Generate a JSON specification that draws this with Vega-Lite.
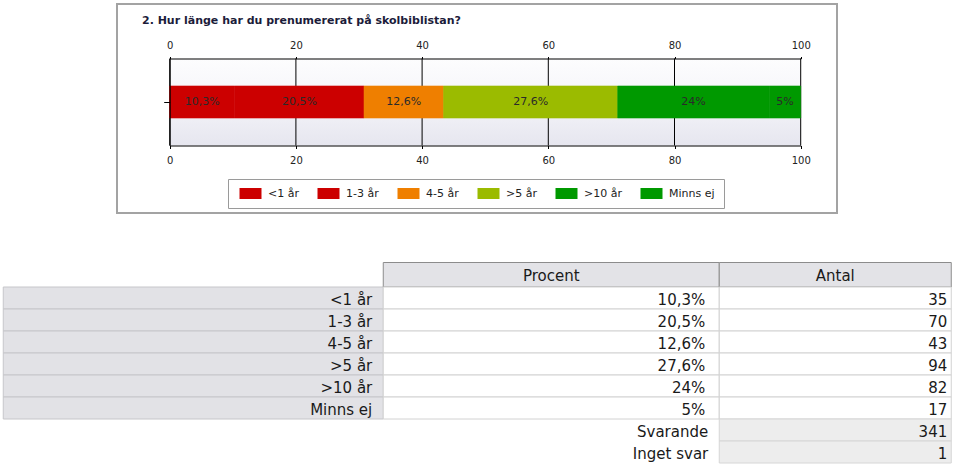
{
  "$schema": "https://vega.github.io/schema/vega-lite/v6.json",
  "background": "white",
  "padding": {"left": 2, "top": 3, "right": 0, "bottom": 0},
  "spacing": 48,
  "center": true,
  "config": {
    "view": {"stroke": null},
    "font": "DejaVu Sans",
    "text": {"font": "DejaVu Sans"}
  },
  "datasets": {
    "svar": [
      {"kat": "<1 år", "ord": 1, "pct": 10.3, "procent": "10,3%", "antal": 35},
      {"kat": "1-3 år", "ord": 2, "pct": 20.5, "procent": "20,5%", "antal": 70},
      {"kat": "4-5 år", "ord": 3, "pct": 12.6, "procent": "12,6%", "antal": 43},
      {"kat": ">5 år", "ord": 4, "pct": 27.6, "procent": "27,6%", "antal": 94},
      {"kat": ">10 år", "ord": 5, "pct": 24, "procent": "24%", "antal": 82},
      {"kat": "Minns ej", "ord": 6, "pct": 5, "procent": "5%", "antal": 17}
    ],
    "summa": [
      {"kat": "Svarande", "antal": 341},
      {"kat": "Inget svar", "antal": 1}
    ]
  },
  "resolve": {"scale": {"color": "independent", "stroke": "independent"}, "legend": {"color": "independent"}},
  "vconcat": [
    {
      "width": 720,
      "height": 209,
      "view": {"stroke": "#a3a3a3", "strokeWidth": 2, "fill": "white"},
      "title": {
        "text": "2. Hur länge har du prenumererat på skolbiblistan?",
        "anchor": "start",
        "frame": "group",
        "offset": -31,
        "dx": 25,
        "baseline": "alphabetic",
        "font": "DejaVu Sans",
        "fontSize": 11,
        "fontWeight": "bold",
        "color": "#1c1c3a"
      },
      "encoding": {
        "y": {
          "datum": "Q",
          "type": "nominal",
          "scale": {"type": "band", "range": [54.5, 141.5], "paddingInner": 0, "paddingOuter": 0},
          "axis": {"orient": "left", "offset": -52.7, "labels": false, "title": null, "tickSize": 6, "domainColor": "#000000", "tickColor": "#000000", "grid": false, "zindex": 1}
        }
      },
      "layer": [
        {
          "data": {"values": [{}]},
          "mark": {
            "type": "rect",
            "fill": {
              "gradient": "linear", "x1": 0, "y1": 0, "x2": 0, "y2": 1,
              "stops": [
                {"offset": 0, "color": "#fdfdfe"},
                {"offset": 0.5, "color": "#f4f4f9"},
                {"offset": 1, "color": "#e6e6ef"}
              ]
            }
          },
          "encoding": {
            "x": {
              "datum": 0,
              "type": "quantitative",
              "scale": {"domain": [0, 100], "range": [52.7, 683.7], "nice": false, "zero": false},
              "axis": {"orient": "bottom", "offset": -67.5, "values": [0, 20, 40, 60, 80, 100], "tickSize": 3, "labelPadding": 7, "domainColor": "#000000", "tickColor": "#000000", "labelColor": "#222222", "labelFont": "DejaVu Sans", "labelFontSize": 10, "labelFlush": false, "labelOverlap": false, "title": null, "grid": false, "zindex": 1}
            },
            "x2": {"datum": 100}
          }
        },
        {
          "data": {"values": [{"v": 0}, {"v": 20}, {"v": 40}, {"v": 60}, {"v": 80}, {"v": 100}]},
          "mark": {"type": "tick", "orient": "vertical", "size": 87, "thickness": 1, "color": "#000000", "opacity": 1},
          "encoding": {
            "x": {
              "field": "v",
              "type": "quantitative",
              "scale": {"domain": [0, 100], "range": [52.7, 683.7], "nice": false, "zero": false},
              "axis": {"orient": "top", "offset": -54.5, "values": [0, 20, 40, 60, 80, 100], "tickSize": 2, "labelPadding": 6, "domainColor": "#000000", "tickColor": "#000000", "labelColor": "#222222", "labelFont": "DejaVu Sans", "labelFontSize": 10, "labelFlush": false, "labelOverlap": false, "title": null, "grid": false, "zindex": 1}
            }
          }
        },
        {
          "data": {"name": "svar"},
          "mark": {"type": "bar", "size": 32, "strokeWidth": 0.6},
          "encoding": {
            "x": {
              "field": "pct",
              "type": "quantitative",
              "stack": "zero",
              "scale": {"domain": [0, 100], "range": [52.7, 683.7], "nice": false, "zero": false},
              "axis": null
            },
            "color": {
              "field": "kat",
              "type": "nominal",
              "scale": {
                "domain": ["<1 år", "1-3 år", "4-5 år", ">5 år", ">10 år", "Minns ej"],
                "range": ["#cc0000", "#cc0000", "#ef7f00", "#9bbb00", "#009900", "#009900"]
              },
              "legend": {
                "orient": "none",
                "legendX": 111,
                "legendY": 175,
                "direction": "horizontal",
                "title": null,
                "symbolType": "M-2,-1H2V1H-2Z",
                "symbolSize": 121,
                "symbolStrokeWidth": 0,
                "symbolOpacity": 1,
                "symbolOffset": 8,
                "labelOffset": 12,
                "labelFont": "DejaVu Sans",
                "labelFontSize": 11,
                "labelColor": "#222222",
                "columnPadding": 16,
                "padding": 9,
                "strokeColor": "#9a9a9a",
                "fillColor": "white"
              }
            },
            "stroke": {
              "field": "kat",
              "type": "nominal",
              "scale": {
                "domain": ["<1 år", "1-3 år", "4-5 år", ">5 år", ">10 år", "Minns ej"],
                "range": ["#cc0000", "#cc0000", "#ef7f00", "#9bbb00", "#009900", "#009900"]
              },
              "legend": null
            },
            "order": {"field": "ord", "type": "quantitative"}
          }
        },
        {
          "data": {"name": "svar"},
          "mark": {"type": "text", "fontSize": 11, "font": "DejaVu Sans", "color": "#2a2a2a", "baseline": "middle"},
          "encoding": {
            "x": {
              "field": "pct",
              "type": "quantitative",
              "stack": "zero",
              "bandPosition": 0.5,
              "scale": {"domain": [0, 100], "range": [52.7, 683.7], "nice": false, "zero": false},
              "axis": null
            },
            "detail": {"field": "kat", "type": "nominal"},
            "order": {"field": "ord", "type": "quantitative"},
            "text": {"field": "procent", "type": "nominal"}
          }
        }
      ],
      "resolve": {"axis": {"x": "independent"}}
    },
    {
      "spacing": 0,
      "bounds": "flush",
      "hconcat": [
        {
          "width": 380,
          "height": 201,
          "data": {"name": "svar"},
          "encoding": {
            "y": {
              "field": "kat",
              "type": "nominal",
              "scale": {"domain": ["<1 år", "1-3 år", "4-5 år", ">5 år", ">10 år", "Minns ej", "Svarande", "Inget svar"], "range": [25, 201], "paddingInner": 0, "paddingOuter": 0},
              "axis": null
            }
          },
          "layer": [
            {"mark": {"type": "rect", "fill": "#e2e2e6", "stroke": "#c6c6ca", "strokeWidth": 1}},
            {
              "mark": {"type": "text", "align": "right", "baseline": "middle", "dx": -11, "dy": 2, "fontSize": 15, "font": "DejaVu Sans", "color": "#1a1a1a"},
              "encoding": {"x": {"value": "width"}, "text": {"field": "kat", "type": "nominal"}}
            }
          ]
        },
        {
          "width": 336,
          "height": 201,
          "layer": [
            {
              "data": {"values": [{"rubrik": "Procent"}]},
              "encoding": {
                "y": {"field": "rubrik", "type": "nominal", "scale": {"range": [0.5, 25], "paddingInner": 0, "paddingOuter": 0}, "axis": null}
              },
              "layer": [
                {"mark": {"type": "rect", "fill": "#e3e3e7", "stroke": "#8c8c8c", "strokeWidth": 1}},
                {
                  "mark": {"type": "text", "baseline": "middle", "dy": 1, "fontSize": 15, "font": "DejaVu Sans", "color": "#1a1a1a"},
                  "encoding": {"text": {"field": "rubrik", "type": "nominal"}}
                }
              ]
            },
            {
              "data": {"name": "svar"},
              "encoding": {
                "y": {
                  "field": "kat",
                  "type": "nominal",
                  "scale": {"domain": ["<1 år", "1-3 år", "4-5 år", ">5 år", ">10 år", "Minns ej", "Svarande", "Inget svar"], "range": [25, 201], "paddingInner": 0, "paddingOuter": 0},
                  "axis": null
                }
              },
              "layer": [
                {"mark": {"type": "rect", "fill": "white", "stroke": "#d2d2d2", "strokeWidth": 1}},
                {
                  "mark": {"type": "text", "align": "right", "baseline": "middle", "dx": -14, "dy": 2, "fontSize": 15, "font": "DejaVu Sans", "color": "#1a1a1a"},
                  "encoding": {"x": {"value": "width"}, "text": {"field": "procent", "type": "nominal"}}
                }
              ]
            },
            {
              "data": {"name": "summa"},
              "mark": {"type": "text", "align": "right", "baseline": "middle", "dx": -11, "dy": 2, "fontSize": 15, "font": "DejaVu Sans", "color": "#1a1a1a"},
              "encoding": {
                "y": {
                  "field": "kat",
                  "type": "nominal",
                  "scale": {"domain": ["<1 år", "1-3 år", "4-5 år", ">5 år", ">10 år", "Minns ej", "Svarande", "Inget svar"], "range": [25, 201], "paddingInner": 0, "paddingOuter": 0},
                  "axis": null
                },
                "x": {"value": "width"},
                "text": {"field": "kat", "type": "nominal"}
              }
            }
          ],
          "resolve": {"scale": {"y": "independent"}}
        },
        {
          "width": 232,
          "height": 201,
          "layer": [
            {
              "data": {"values": [{"rubrik": "Antal"}]},
              "encoding": {
                "y": {"field": "rubrik", "type": "nominal", "scale": {"range": [0.5, 25], "paddingInner": 0, "paddingOuter": 0}, "axis": null}
              },
              "layer": [
                {"mark": {"type": "rect", "fill": "#e3e3e7", "stroke": "#8c8c8c", "strokeWidth": 1}},
                {
                  "mark": {"type": "text", "baseline": "middle", "dy": 1, "fontSize": 15, "font": "DejaVu Sans", "color": "#1a1a1a"},
                  "encoding": {"text": {"field": "rubrik", "type": "nominal"}}
                }
              ]
            },
            {
              "data": {"name": "svar"},
              "encoding": {
                "y": {
                  "field": "kat",
                  "type": "nominal",
                  "scale": {"domain": ["<1 år", "1-3 år", "4-5 år", ">5 år", ">10 år", "Minns ej", "Svarande", "Inget svar"], "range": [25, 201], "paddingInner": 0, "paddingOuter": 0},
                  "axis": null
                }
              },
              "layer": [
                {"mark": {"type": "rect", "fill": "white", "stroke": "#d2d2d2", "strokeWidth": 1}},
                {
                  "mark": {"type": "text", "align": "right", "baseline": "middle", "dx": -4, "dy": 2, "fontSize": 15, "font": "DejaVu Sans", "color": "#1a1a1a"},
                  "encoding": {"x": {"value": "width"}, "text": {"field": "antal", "type": "quantitative"}}
                }
              ]
            },
            {
              "data": {"name": "summa"},
              "encoding": {
                "y": {
                  "field": "kat",
                  "type": "nominal",
                  "scale": {"domain": ["<1 år", "1-3 år", "4-5 år", ">5 år", ">10 år", "Minns ej", "Svarande", "Inget svar"], "range": [25, 201], "paddingInner": 0, "paddingOuter": 0},
                  "axis": null
                }
              },
              "layer": [
                {"mark": {"type": "rect", "fill": "#ededed", "stroke": "#d6d6d6", "strokeWidth": 1}},
                {
                  "mark": {"type": "text", "align": "right", "baseline": "middle", "dx": -4, "dy": 2, "fontSize": 15, "font": "DejaVu Sans", "color": "#1a1a1a"},
                  "encoding": {"x": {"value": "width"}, "text": {"field": "antal", "type": "quantitative"}}
                }
              ]
            }
          ],
          "resolve": {"scale": {"y": "independent"}}
        }
      ]
    }
  ]
}
